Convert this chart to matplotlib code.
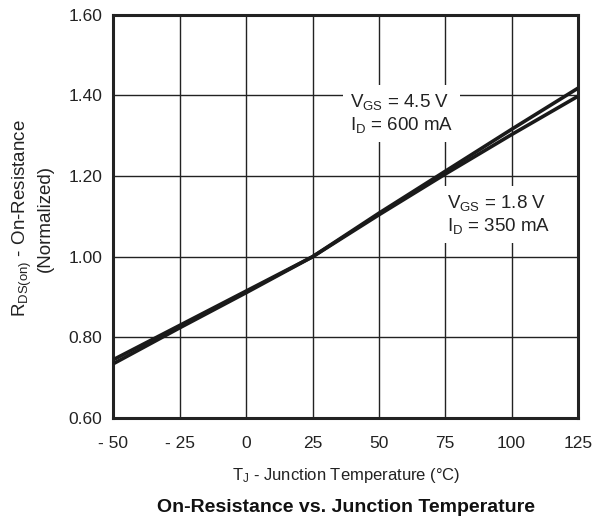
import numpy as np
import matplotlib.pyplot as plt

plt.rcParams['font.family'] = ['Liberation Sans', 'DejaVu Sans']
plt.rcParams['mathtext.fontset'] = 'custom'
plt.rcParams['mathtext.rm'] = 'Liberation Sans'
plt.rcParams['mathtext.it'] = 'Liberation Sans'

# junction temperature (C) and normalized on-resistance
temp = [-50, -25, 0, 25, 50, 75, 100, 125]
rds_45v = [0.735, 0.824, 0.911, 1.0, 1.108, 1.212, 1.316, 1.418]
rds_18v = [0.745, 0.830, 0.915, 1.0, 1.104, 1.205, 1.303, 1.398]

xticks = [-50, -25, 0, 25, 50, 75, 100, 125]
xtick_labels = ['- 50', '- 25', '0', '25', '50', '75', '100', '125']
yticks = [0.6, 0.8, 1.0, 1.2, 1.4, 1.6]

fig = plt.figure(figsize=(6.02, 5.2), dpi=100)
ax = fig.add_axes([0.1885, 0.196, 0.7716, 0.7756])

ax.plot(temp, rds_45v, color='#1a1a1a', lw=2.6, solid_capstyle='butt', zorder=3)
ax.plot(temp, rds_18v, color='#1a1a1a', lw=2.6, solid_capstyle='butt', zorder=3)

ax.set_xlim(-50, 125)
ax.set_ylim(0.6, 1.6)
ax.set_xticks(xticks)
ax.set_xticklabels(xtick_labels)
ax.set_yticks(yticks)
ax.set_yticklabels(['%.2f' % v for v in yticks])
ax.tick_params(length=0, labelsize=12.5, colors='#222222')
ax.tick_params(axis='x', pad=13)
ax.tick_params(axis='y', pad=8)
ax.grid(True, color='#222222', lw=1.0)
ax.set_axisbelow(True)
for s in ax.spines.values():
    s.set_linewidth(2.2)
    s.set_color('#222222')

box = dict(facecolor='white', edgecolor='none', pad=5)
ax.text(39, 1.356, 'V$_{\\mathrm{GS}}$ = 4.5 V\nI$_{\\mathrm{D}}$ = 600 mA',
        fontsize=13.5, color='#222222', ha='left', va='center', bbox=box, zorder=2)
ax.text(75.8, 1.104, 'V$_{\\mathrm{GS}}$ = 1.8 V\nI$_{\\mathrm{D}}$ = 350 mA',
        fontsize=13.5, color='#222222', ha='left', va='center', bbox=box, zorder=2)

ax.set_xlabel('T$_{\\mathrm{J}}$ - Junction Temperature (°C)', fontsize=12,
              color='#222222', labelpad=11)
fig.text(32 / 602, 1 - 218 / 520, 'R$_{\\mathrm{DS(on)}}$ - On-Resistance\n(Normalized)',
         rotation=90, ha='center', va='center', multialignment='center',
         fontsize=13.5, color='#222222')
fig.text(0.5 * (113.5 + 578) / 602, 1 - 508 / 520,
         'On-Resistance vs. Junction Temperature',
         ha='center', va='center', fontsize=14, fontweight='bold', color='#111111')

fig.savefig('out.png', dpi=100)
